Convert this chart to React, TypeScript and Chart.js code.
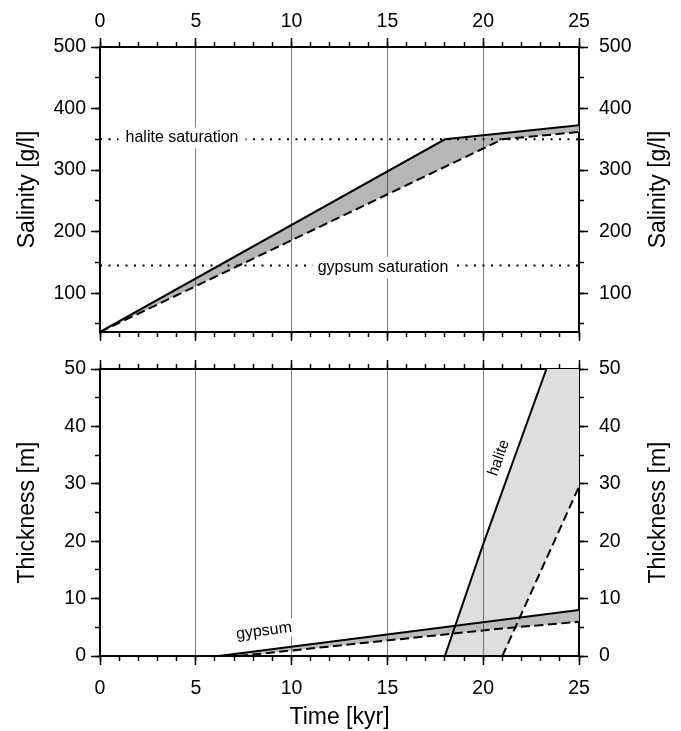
import React, { useEffect, useRef } from 'react';
import { Chart, registerables } from 'chart.js';

Chart.register(...registerables);

const FONT = "'Liberation Sans', Arial, Helvetica, sans-serif";
Chart.defaults.font.family = FONT;

// ---- axis ranges ----
const TIME_RANGE = [0, 25];
const SALINITY_RANGE = [37, 500];
const THICKNESS_RANGE = [0, 50];

// ---- tick labels ----
const timeTicks = [0, 5, 10, 15, 20, 25];
const timeMinorTicks = [0, 1, 2, 3, 4, 5, 6, 7, 8, 9, 10, 11, 12, 13, 14, 15, 16, 17, 18, 19, 20, 21, 22, 23, 24, 25];
const salinityTicks = [100, 200, 300, 400, 500];
const salinityMinorTicks = [50, 100, 150, 200, 250, 300, 350, 400, 450, 500];
const thicknessTicks = [0, 10, 20, 30, 40, 50];
const thicknessMinorTicks = [0, 5, 10, 15, 20, 25, 30, 35, 40, 45, 50];

// ---- series: [time (kyr), value] ----
const salinitySolid = [[0, 37], [18, 350], [25, 373]];
const salinityDashed = [[0, 37], [21, 350], [25, 362]];
const haliteSaturation = 350;
const gypsumSaturation = 145;

const gypsumSolid = [[6.2, 0], [25, 8]];
const gypsumDashed = [[7.25, 0], [21, 4.8], [25, 5.95]];
const haliteSolid = [[18, 0], [20, 19.5], [23.3, 50]];
const haliteDashed = [[21, 0], [25, 29.5]];

// ---- annotations (text, data position) ----
const topLabels = [
  { text: 'halite saturation', x: 4.28, y: 352.5, rot: 0, bg: true, size: 16, padX: 7, boxH: 21 },
  { text: 'gypsum saturation', x: 14.77, y: 141.3, rot: 0, bg: true, size: 16, padX: 5, boxH: 22 },
];
const bottomLabels = [
  { text: 'gypsum', x: 8.56, y: 4.35, rot: -7.3, bg: true, size: 16, padX: 3, boxH: 18 },
  { text: 'halite', x: 20.82, y: 34.5, rot: -70.5, bg: false, size: 15.5, padX: 0, boxH: 0 },
];

const toXY = (arr: number[][]) => arr.map(([x, y]) => ({ x, y }));

const gridColor = (ctx: any) =>
  ctx.tick && (ctx.tick.value === TIME_RANGE[0] || ctx.tick.value === TIME_RANGE[1])
    ? 'rgba(0,0,0,0)'
    : 'rgba(0,0,0,0.5)';

type AxisCfg = {
  axis: 'x' | 'y';
  position: string;
  range: number[];
  values: number[];
  size: number;
  weight: number;
  tick: number;
  labels?: boolean;
  pad?: number;
  border?: boolean;
  grid?: boolean;
  title?: string;
  titlePad?: any;
};

function axis(c: AxisCfg) {
  return {
    type: 'linear',
    axis: c.axis,
    position: c.position,
    min: c.range[0],
    max: c.range[1],
    weight: c.weight,
    afterBuildTicks: (s: any) => {
      s.ticks = c.values.map((v) => ({ value: v }));
    },
    afterFit: (s: any) => {
      if (c.axis === 'x') s.height = c.size;
      else s.width = c.size;
      s.paddingLeft = 0;
      s.paddingRight = 0;
      s.paddingTop = 0;
      s.paddingBottom = 0;
    },
    ticks: {
      display: !!c.labels,
      padding: c.pad ?? 0,
      autoSkip: false,
      maxRotation: 0,
      minRotation: 0,
      color: '#000',
      font: { family: FONT, size: 19.5 },
      callback: (v: any) => String(v),
    },
    grid: {
      display: true,
      drawOnChartArea: !!c.grid,
      drawTicks: true,
      tickLength: c.tick,
      tickWidth: 1.5,
      tickColor: '#000',
      lineWidth: 1,
      color: c.grid ? gridColor : '#000',
      z: c.grid ? 1 : 0,
    },
    border: { display: !!c.border, color: '#000', width: 2, z: c.grid ? 2 : 0 },
    title: c.title
      ? { display: true, text: c.title, color: '#000', font: { family: FONT, size: 23 }, padding: c.titlePad }
      : { display: false },
  };
}

function annotPlugin(labels: any[], rightTitle: string, rightX: number) {
  return {
    id: 'annot',
    afterDraw(chart: any) {
      const ctx = chart.ctx;
      const xs = chart.scales.x;
      const ys = chart.scales.y;
      for (const l of labels) {
        const px = xs.getPixelForValue(l.x);
        const py = ys.getPixelForValue(l.y);
        ctx.save();
        ctx.translate(px, py);
        ctx.rotate((l.rot * Math.PI) / 180);
        ctx.font = `${l.size}px ${FONT}`;
        const w = ctx.measureText(l.text).width;
        if (l.bg) {
          ctx.fillStyle = '#fff';
          ctx.fillRect(-w / 2 - l.padX, -l.boxH / 2, w + 2 * l.padX, l.boxH);
        }
        ctx.fillStyle = '#000';
        ctx.textAlign = 'center';
        ctx.textBaseline = 'middle';
        ctx.fillText(l.text, 0, 0);
        ctx.restore();
      }
      const ca = chart.chartArea;
      ctx.save();
      ctx.translate(rightX, (ca.top + ca.bottom) / 2);
      ctx.rotate(-Math.PI / 2);
      ctx.font = `23px ${FONT}`;
      ctx.fillStyle = '#000';
      ctx.textAlign = 'center';
      ctx.textBaseline = 'middle';
      ctx.fillText(rightTitle, 0, 0);
      ctx.restore();
    },
  };
}

const lineDs = (data: number[][], dash: number[] = []) => ({
  data: toXY(data),
  borderColor: '#000',
  borderWidth: 2,
  borderDash: dash,
  borderCapStyle: 'butt',
  pointRadius: 0,
  pointHoverRadius: 0,
  fill: false,
  tension: 0,
  xAxisID: 'x',
  yAxisID: 'y',
});

const fillDs = (points: { x: number; y: number }[], color: string) => ({
  data: points,
  borderColor: 'rgba(0,0,0,0)',
  borderWidth: 0,
  backgroundColor: color,
  pointRadius: 0,
  pointHoverRadius: 0,
  fill: 'shape',
  tension: 0,
  xAxisID: 'x',
  yAxisID: 'y',
});

const DASH = [9, 4.5];
const DOT = [2, 6.5];

function baseOptions(scales: any) {
  return {
    animation: false,
    responsive: false,
    devicePixelRatio: 1,
    events: [],
    layout: { padding: 0 },
    plugins: { legend: { display: false }, tooltip: { enabled: false } },
    scales,
  };
}

function topConfig(): any {
  const datasets = [
    lineDs(salinitySolid),
    lineDs(salinityDashed, DASH),
    lineDs([[TIME_RANGE[0], haliteSaturation], [TIME_RANGE[1], haliteSaturation]], DOT),
    lineDs([[TIME_RANGE[0], gypsumSaturation], [TIME_RANGE[1], gypsumSaturation]], DOT),
    fillDs([...toXY(salinitySolid), ...toXY(salinityDashed).reverse()], '#b6b6b6'),
  ];
  const scales = {
    x: axis({ axis: 'x', position: 'bottom', range: TIME_RANGE, values: timeTicks, size: 18, weight: 1, tick: 9, border: true, grid: true }),
    xMinor: axis({ axis: 'x', position: 'bottom', range: TIME_RANGE, values: timeMinorTicks, size: 0, weight: 0, tick: 5 }),
    xTop: axis({ axis: 'x', position: 'top', range: TIME_RANGE, values: timeTicks, size: 47, weight: 1, tick: 9, labels: true, pad: 5, border: true }),
    xTopMinor: axis({ axis: 'x', position: 'top', range: TIME_RANGE, values: timeMinorTicks, size: 0, weight: 0, tick: 5 }),
    y: axis({ axis: 'y', position: 'left', range: SALINITY_RANGE, values: salinityTicks, size: 100, weight: 1, tick: 9, labels: true, pad: 5, border: true, title: 'Salinity [g/l]', titlePad: { top: 13.7, bottom: 0 } }),
    yMinor: axis({ axis: 'y', position: 'left', range: SALINITY_RANGE, values: salinityMinorTicks, size: 0, weight: 0, tick: 5 }),
    yRight: axis({ axis: 'y', position: 'right', range: SALINITY_RANGE, values: salinityTicks, size: 102, weight: 1, tick: 9, labels: true, pad: 11, border: true }),
    yRightMinor: axis({ axis: 'y', position: 'right', range: SALINITY_RANGE, values: salinityMinorTicks, size: 0, weight: 0, tick: 5 }),
  };
  return {
    type: 'line',
    data: { datasets },
    options: baseOptions(scales),
    plugins: [annotPlugin(topLabels, 'Salinity [g/l]', 658.5)],
  };
}

function bottomConfig(): any {
  const datasets = [
    lineDs(haliteSolid),
    lineDs(haliteDashed, DASH),
    lineDs(gypsumSolid),
    lineDs(gypsumDashed, DASH),
    fillDs([...toXY(gypsumSolid), ...toXY(gypsumDashed).reverse()], '#bcbcbc'),
    fillDs(
      [...toXY(haliteSolid), { x: TIME_RANGE[1], y: THICKNESS_RANGE[1] }, ...toXY(haliteDashed).reverse()],
      '#dedede'
    ),
  ];
  const scales = {
    x: axis({ axis: 'x', position: 'bottom', range: TIME_RANGE, values: timeTicks, size: 75, weight: 1, tick: 9, labels: true, pad: 11.6, border: true, grid: true, title: 'Time [kyr]', titlePad: { top: 0, bottom: 0 } }),
    xMinor: axis({ axis: 'x', position: 'bottom', range: TIME_RANGE, values: timeMinorTicks, size: 0, weight: 0, tick: 5 }),
    xTop: axis({ axis: 'x', position: 'top', range: TIME_RANGE, values: timeTicks, size: 19, weight: 1, tick: 9, border: true }),
    xTopMinor: axis({ axis: 'x', position: 'top', range: TIME_RANGE, values: timeMinorTicks, size: 0, weight: 0, tick: 5 }),
    y: axis({ axis: 'y', position: 'left', range: THICKNESS_RANGE, values: thicknessTicks, size: 100, weight: 1, tick: 9, labels: true, pad: 5, border: true, title: 'Thickness [m]', titlePad: { top: 13.7, bottom: 0 } }),
    yMinor: axis({ axis: 'y', position: 'left', range: THICKNESS_RANGE, values: thicknessMinorTicks, size: 0, weight: 0, tick: 5 }),
    yRight: axis({ axis: 'y', position: 'right', range: THICKNESS_RANGE, values: thicknessTicks, size: 102, weight: 1, tick: 9, labels: true, pad: 11, border: true }),
    yRightMinor: axis({ axis: 'y', position: 'right', range: THICKNESS_RANGE, values: thicknessMinorTicks, size: 0, weight: 0, tick: 5 }),
  };
  return {
    type: 'line',
    data: { datasets },
    options: baseOptions(scales),
    plugins: [annotPlugin(bottomLabels, 'Thickness [m]', 659)],
  };
}

export default function App() {
  const topRef = useRef<HTMLCanvasElement>(null);
  const botRef = useRef<HTMLCanvasElement>(null);
  useEffect(() => {
    const c1 = new Chart(topRef.current as HTMLCanvasElement, topConfig());
    const c2 = new Chart(botRef.current as HTMLCanvasElement, bottomConfig());
    return () => {
      c1.destroy();
      c2.destroy();
    };
  }, []);
  return (
    <div style={{ position: 'fixed', left: 0, top: 0, width: 681, height: 731, background: '#fff' }}>
      <canvas ref={topRef} width={681} height={350} style={{ position: 'absolute', left: 0, top: 0, width: 681, height: 350 }} />
      <canvas ref={botRef} width={681} height={381} style={{ position: 'absolute', left: 0, top: 350, width: 681, height: 381 }} />
    </div>
  );
}
